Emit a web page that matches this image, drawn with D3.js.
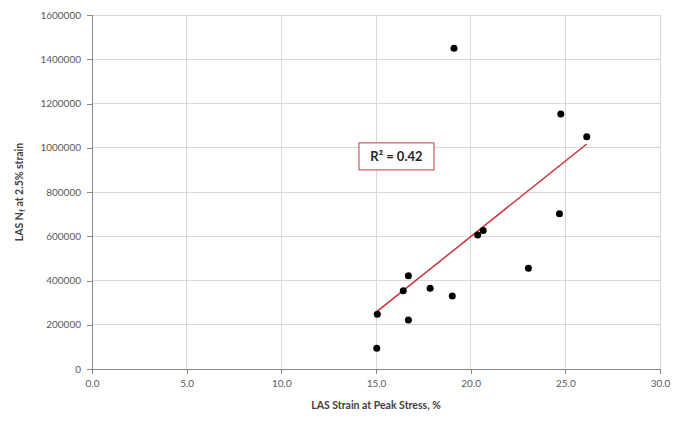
<!DOCTYPE html>
<html><head><meta charset="utf-8">
<script src="https://cdn.jsdelivr.net/npm/d3@7"></script>
<style>body{margin:0;background:#fff}svg{display:block}</style>
</head><body>
<script>
const strain = [15.07,15.04,16.71,16.44,16.71,17.86,19.03,19.12,20.37,20.66,23.05,24.69,24.76,26.13];
const nf = [247000,93600,421700,354000,221500,364700,330000,1449500,605700,626000,455100,702000,1152600,1050000];
const xTicks = [0,5,10,15,20,25,30];
const yTicks = [0,200000,400000,600000,800000,1000000,1200000,1400000,1600000];
const r2Label = "R² = 0.42";

const W = 673, H = 421;
const m = {l:92, r:13, t:15, b:52};
const svg = d3.select("body").append("svg").attr("width",W).attr("height",H);
const x = d3.scaleLinear().domain([0,30]).range([m.l, W-m.r]);
const y = d3.scaleLinear().domain([0,1600000]).range([H-m.b, m.t]);
const font = "Lato, 'Open Sans', sans-serif";

// gridlines
svg.append("g").selectAll("line.h").data(yTicks.slice(1)).join("line")
  .attr("x1",x(0)).attr("x2",x(30)).attr("y1",d=>y(d)).attr("y2",d=>y(d))
  .attr("stroke","#d9d9d9").attr("stroke-width",1).attr("shape-rendering","crispEdges");
svg.append("g").selectAll("line.v").data(xTicks.slice(1)).join("line")
  .attr("y1",y(0)).attr("y2",y(1600000)).attr("x1",d=>x(d)).attr("x2",d=>x(d))
  .attr("stroke","#d9d9d9").attr("stroke-width",1).attr("shape-rendering","crispEdges");

// axes
const xAxis = svg.append("g").attr("transform",`translate(0,${y(0)})`)
  .call(d3.axisBottom(x).tickValues(xTicks).tickFormat(d3.format(".1f")).tickSizeOuter(0).tickSize(5).tickPadding(6));
const yAxis = svg.append("g").attr("transform",`translate(${x(0)},0)`)
  .call(d3.axisLeft(y).tickValues(yTicks).tickFormat(d=>String(d)).tickSizeOuter(0).tickSize(5).tickPadding(6));
[xAxis,yAxis].forEach(g=>{
  g.selectAll("path,line").attr("stroke","#868686").attr("shape-rendering","crispEdges");
  g.selectAll("text").attr("fill","#595959").style("font-family",font).style("font-size","10px");
});

// trendline (least squares)
const n = strain.length;
const mx = d3.mean(strain), my = d3.mean(nf);
let sxy=0,sxx=0;
for(let i=0;i<n;i++){sxy+=(strain[i]-mx)*(nf[i]-my);sxx+=(strain[i]-mx)**2;}
const slope = sxy/sxx, icpt = my - slope*mx;
const x0 = d3.min(strain), x1 = d3.max(strain);
svg.append("line").attr("x1",x(x0)).attr("y1",y(icpt+slope*x0))
  .attr("x2",x(x1)).attr("y2",y(icpt+slope*x1))
  .attr("stroke","#c8313b").attr("stroke-width",1.5);

// points
svg.append("g").selectAll("circle").data(strain).join("circle")
  .attr("cx",d=>x(d)).attr("cy",(d,i)=>y(nf[i])).attr("r",3.5).attr("fill","#000");

// R2 box
const bx = x(14.1), by = y(1022000);
svg.append("rect").attr("x",bx).attr("y",by).attr("width",75).attr("height",27)
  .attr("fill","#fff").attr("stroke","#b8413f").attr("stroke-width",1);
svg.append("text").attr("x",bx+37.5).attr("y",by+18.5).attr("text-anchor","middle")
  .style("font-family",font).style("font-size","13px").style("font-weight","bold")
  .attr("fill","#262626").text(r2Label);

// axis titles
svg.append("text").attr("x",(x(0)+x(30))/2).attr("y",409).attr("text-anchor","middle")
  .style("font-family",font).style("font-size","10.5px").style("font-weight","bold")
  .attr("fill","#404040").text("LAS Strain at Peak Stress, %");
const yt = svg.append("text").attr("transform",`translate(23,${(y(0)+y(1600000))/2}) rotate(-90)`)
  .attr("text-anchor","middle")
  .style("font-family",font).style("font-size","10.5px").style("font-weight","bold")
  .attr("fill","#404040");
yt.append("tspan").text("LAS N");
yt.append("tspan").attr("dy",2).style("font-size","8px").text("f");
yt.append("tspan").attr("dy",-2).text(" at 2.5% strain");
</script>
</body></html>
